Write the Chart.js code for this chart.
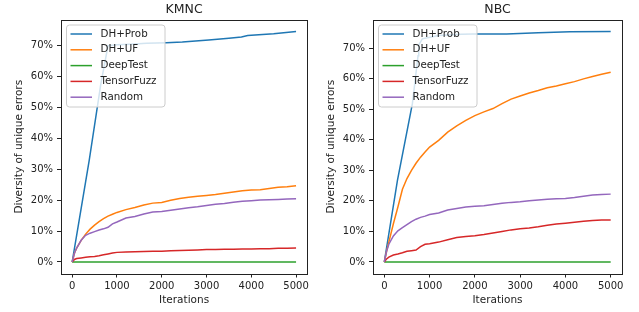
<!DOCTYPE html>
<html>
<head>
<meta charset="utf-8">
<script src="https://cdn.jsdelivr.net/npm/chart.js@4.4.0/dist/chart.umd.min.js"></script>
<style>
  body { margin: 0; background: #fff; }
  #wrap { position: relative; width: 639px; height: 312px; overflow: hidden; }
  canvas { position: absolute; top: 0; }
</style>
</head>
<body>
<div id="wrap">
  <canvas id="kmnc" width="312" height="312" style="left:0"></canvas>
  <canvas id="nbc" width="320" height="312" style="left:312px"></canvas>
</div>
<script>
let labels = ['DH+Prob', 'DH+UF', 'DeepTest', 'TensorFuzz', 'Random'];
let colors = ['#1f77b4', '#ff7f0e', '#2ca02c', '#d62728', '#9467bd'];
let xTicks = [0, 1000, 2000, 3000, 4000, 5000];
let yTicks = [0, 10, 20, 30, 40, 50, 60, 70];

// shared iteration grid for the slower curves
let iterations = [0, 50, 100, 200, 300, 400, 500, 600, 700, 800, 900, 1000, 1200, 1400, 1600, 1800,
    2000, 2200, 2400, 2600, 2800, 3000, 3200, 3400, 3600, 3800, 4000, 4200, 4400, 4600, 4800, 5000];

// KMNC
let kmncProbX = [0, 380, 640, 770, 800, 1000, 1300, 1660, 2100, 2460, 3050, 3500, 3780, 3920, 4500, 5000];
let kmncProbY = [0, 32.8, 57.5, 67.5, 69.8, 70.1, 70.3, 70.6, 70.8, 71.0, 71.7, 72.2, 72.6, 73.1, 73.7, 74.4];
let kmncUF = [0, 2.8, 4.5, 7.0, 9.0, 10.6, 11.9, 13.0, 14.0, 14.8, 15.4, 16.0, 16.9, 17.6, 18.4, 19.0,
    19.2, 19.9, 20.5, 20.9, 21.2, 21.5, 21.8, 22.2, 22.6, 23.0, 23.2, 23.3, 23.7, 24.1, 24.3, 24.6];
let kmncDeepTest = [0, 0, 0, 0, 0, 0, 0, 0, 0, 0, 0, 0, 0, 0, 0, 0,
    0, 0, 0, 0, 0, 0, 0, 0, 0, 0, 0, 0, 0, 0, 0, 0];
let kmncTensorFuzz = [0, 0.8, 1.1, 1.3, 1.5, 1.7, 1.8, 2.0, 2.3, 2.6, 2.9, 3.1, 3.2, 3.3, 3.4, 3.5,
    3.5, 3.6, 3.7, 3.8, 3.9, 4.0, 4.0, 4.1, 4.1, 4.2, 4.2, 4.3, 4.3, 4.4, 4.4, 4.5];
let kmncRandom = [0, 2.8, 4.5, 7.0, 8.6, 9.3, 9.8, 10.3, 10.7, 11.2, 12.3, 12.9, 14.2, 14.7, 15.5, 16.1,
    16.3, 16.7, 17.1, 17.5, 17.8, 18.2, 18.6, 18.9, 19.3, 19.6, 19.8, 20.0, 20.1, 20.2, 20.3, 20.4];

// NBC
let nbcProbX = [0, 290, 620, 745, 760, 840, 1200, 1700, 1950, 2700, 3400, 4100, 5000];
let nbcProbY = [0, 26.7, 51.8, 67.5, 71.0, 73.0, 74.1, 74.5, 74.6, 74.6, 75.0, 75.3, 75.4];
let nbcUF = [0, 3.5, 6.5, 12.5, 18.0, 23.8, 27.3, 30.0, 32.3, 34.3, 36.0, 37.6, 39.8, 42.5, 44.5, 46.3,
    47.9, 49.1, 50.2, 51.8, 53.3, 54.3, 55.3, 56.1, 57.0, 57.6, 58.3, 59.0, 59.9, 60.7, 61.4, 62.1];
let nbcDeepTest = [0, 0, 0, 0, 0, 0, 0, 0, 0, 0, 0, 0, 0, 0, 0, 0,
    0, 0, 0, 0, 0, 0, 0, 0, 0, 0, 0, 0, 0, 0, 0, 0];
let nbcTensorFuzz = [0, 1.0, 1.6, 2.3, 2.6, 3.0, 3.5, 3.7, 3.9, 5.0, 5.8, 6.0, 6.5, 7.3, 8.0, 8.3,
    8.6, 9.0, 9.5, 10.0, 10.5, 10.9, 11.1, 11.5, 12.0, 12.4, 12.7, 13.0, 13.3, 13.6, 13.7, 13.7];
let nbcRandom = [0, 3.5, 5.8, 8.5, 10.2, 11.2, 12.2, 13.2, 14.0, 14.6, 15.0, 15.5, 16.0, 17.0, 17.5, 18.0,
    18.2, 18.4, 18.8, 19.2, 19.5, 19.7, 20.0, 20.3, 20.5, 20.7, 20.8, 21.1, 21.5, 21.9, 22.1, 22.2];

Chart.defaults.font.family = 'DejaVu Sans';
Chart.defaults.font.size = 10;
Chart.defaults.color = '#222';

let pts = (xs, ys) => xs.map((x, i) => ({x: x, y: ys[i]}));

// legend box inside the axes + full frame, like matplotlib
let frameLegend = {
    id: 'frameLegend',
    afterDatasetsDraw(chart) {
        let {ctx, chartArea: a} = chart;
        ctx.save();
        let bx = a.left + 5.5, by = a.top + 5, bw = 98.5, bh = 82;
        ctx.beginPath();
        ctx.roundRect(bx, by, bw, bh, 3);
        ctx.fillStyle = 'rgba(255,255,255,0.8)';
        ctx.fill();
        ctx.strokeStyle = '#cccccc';
        ctx.lineWidth = 1;
        ctx.stroke();
        ctx.font = '10.3px "DejaVu Sans"';
        ctx.textBaseline = 'middle';
        chart.data.datasets.forEach((ds, i) => {
            let y = by + 9 + i * 15.8;
            ctx.strokeStyle = ds.borderColor;
            ctx.lineWidth = 1.5;
            ctx.beginPath();
            ctx.moveTo(a.left + 9.5, y);
            ctx.lineTo(a.left + 31, y);
            ctx.stroke();
            ctx.fillStyle = '#222';
            ctx.fillText(ds.label, a.left + 39.5, y);
        });
        ctx.strokeStyle = '#222';
        ctx.lineWidth = 1;
        ctx.strokeRect(Math.round(a.left) + 0.5, Math.round(a.top) + 0.5,
            Math.round(a.right - a.left), Math.round(a.bottom - a.top));
        ctx.restore();
    }
};

function makeChart(id, title, series, rightPad) {
    let maxVal = Math.max(...series.map(s => Math.max(...s.map(p => p.y))));
    let margin = maxVal * 0.05;
    return new Chart(document.getElementById(id), {
        type: 'line',
        data: {
            datasets: series.map((s, i) => ({
                label: labels[i],
                data: s,
                borderColor: colors[i],
                backgroundColor: colors[i],
                borderWidth: 1.5,
                pointRadius: 0,
                tension: 0,
                fill: false,
                order: 5 - i
            }))
        },
        options: {
            responsive: false,
            animation: false,
            devicePixelRatio: 1,
            layout: {padding: {left: 0, right: rightPad, top: 0, bottom: 0}},
            plugins: {
                legend: {display: false},
                tooltip: {enabled: false},
                title: {
                    display: true,
                    text: title,
                    fullSize: false,
                    font: {size: 12.5, weight: 'normal'},
                    color: '#222',
                    padding: {top: 2, bottom: 3}
                }
            },
            scales: {
                x: {
                    type: 'linear',
                    min: -250,
                    max: 5250,
                    afterBuildTicks: (s) => { s.ticks = xTicks.map(v => ({value: v})); },
                    afterFit: (s) => { s.height = 38.5; },
                    grid: {drawOnChartArea: false, drawTicks: true, tickLength: 4, tickColor: '#222'},
                    border: {display: false},
                    ticks: {padding: 3, maxRotation: 0, color: '#222', callback: (v) => String(v)},
                    title: {display: true, text: 'Iterations', color: '#222', font: {size: 10.5}, padding: {top: 0, bottom: 5.5}}
                },
                y: {
                    type: 'linear',
                    min: -margin,
                    max: maxVal + margin,
                    afterBuildTicks: (s) => { s.ticks = yTicks.map(v => ({value: v})); },
                    afterFit: (s) => { s.width = 61; },
                    grid: {drawOnChartArea: false, drawTicks: true, tickLength: 4, tickColor: '#222'},
                    border: {display: false},
                    ticks: {padding: 4, color: '#222', callback: (v) => v + '%'},
                    title: {display: true, text: 'Diversity of unique errors', color: '#222', font: {size: 10.5}, padding: {top: 13, bottom: 0}}
                }
            }
        },
        plugins: [frameLegend]
    });
}

makeChart('kmnc', 'KMNC', [
    pts(kmncProbX, kmncProbY),
    pts(iterations, kmncUF),
    pts(iterations, kmncDeepTest),
    pts(iterations, kmncTensorFuzz),
    pts(iterations, kmncRandom)
], 2);

makeChart('nbc', 'NBC', [
    pts(nbcProbX, nbcProbY),
    pts(iterations, nbcUF),
    pts(iterations, nbcDeepTest),
    pts(iterations, nbcTensorFuzz),
    pts(iterations, nbcRandom)
], 10);
</script>
</body>
</html>
